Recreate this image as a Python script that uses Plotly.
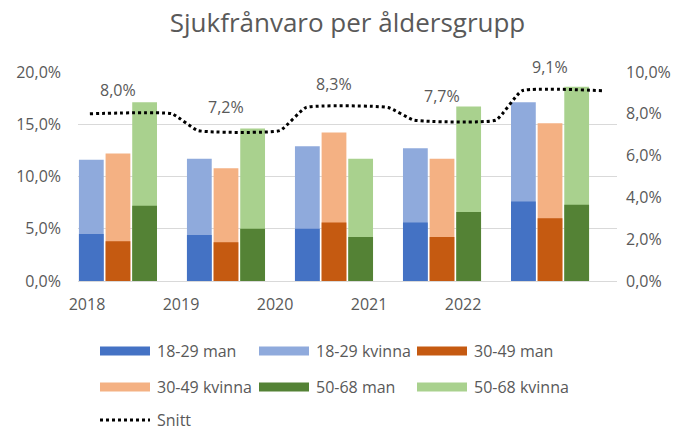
import plotly.graph_objects as go

# Sick-leave share (%) per age group and year
years = [2018, 2019, 2020, 2021, 2022]
age_groups = ["18-29", "30-49", "50-68"]
man_values = {
    "18-29": [4.5, 4.4, 5.0, 5.6, 7.6],
    "30-49": [3.8, 3.7, 5.6, 4.2, 6.0],
    "50-68": [7.2, 5.0, 4.2, 6.6, 7.3],
}
kvinna_values = {
    "18-29": [11.6, 11.7, 12.9, 12.7, 17.1],
    "30-49": [12.2, 10.8, 14.2, 11.7, 15.1],
    "50-68": [17.1, 14.6, 11.7, 16.7, 18.6],
}
snitt = [8.0, 7.2, 8.3, 7.7, 9.1]

left_ticks = [0, 5, 10, 15, 20]
right_ticks = [0, 2, 4, 6, 8, 10]


def pct(v):
    return f"{v:.1f}%".replace(".", ",")


man_colors = {"18-29": "#4472C4", "30-49": "#C55A11", "50-68": "#548235"}
kvinna_colors = {"18-29": "#8FAADC", "30-49": "#F4B183", "50-68": "#A9D18E"}

FONT = "Open Sans"
GRAY = "#595959"
W, H = 683, 430
L, R, T, B = 78, 617, 72, 281  # plot area in pixels

fig = go.Figure()

for g in age_groups:
    fig.add_trace(go.Bar(
        x=years, y=kvinna_values[g], name=f"{g} kvinna", offsetgroup=g,
        marker=dict(color=kvinna_colors[g], line=dict(width=0)),
        showlegend=False,
    ))
    fig.add_trace(go.Bar(
        x=years, y=man_values[g], name=f"{g} man", offsetgroup=g,
        marker=dict(color=man_colors[g], line=dict(width=0)),
        showlegend=False,
    ))

# Average line: a flat run across each year, slanted joins between years
SHIFT, HALF = 0.12, 0.38
lx, ly = [], []
for yr, v in zip(years, snitt):
    lx += [yr + SHIFT - HALF, yr + SHIFT + HALF]
    ly += [v, v]
fig.add_trace(go.Scatter(
    x=lx, y=ly, yaxis="y2", mode="lines", name="Snitt",
    line=dict(color="black", width=3, dash="dot", shape="spline", smoothing=0.4),
    showlegend=False,
))

# Carrier for the year labels axis
fig.add_trace(go.Scatter(
    x=years, y=snitt, xaxis="x2", yaxis="y2", mode="markers",
    marker=dict(opacity=0), showlegend=False, hoverinfo="skip",
))

for yr, v in zip(years, snitt):
    fig.add_annotation(
        x=yr, y=v, xref="x", yref="y2", text=pct(v),
        showarrow=False, yshift=24, font=dict(family=FONT, size=16, color=GRAY),
    )

# Legend drawn as swatches + labels
def px_x(p):
    return (p - L) / (R - L)


def px_y(p):
    return (B - p) / (B - T)


legend_items = []
for g in age_groups:
    legend_items.append((f"{g} man", man_colors[g]))
    legend_items.append((f"{g} kvinna", kvinna_colors[g]))
col_x = [100, 259, 417]
row_y = [351, 387, 420]
for i, (label, color) in enumerate(legend_items):
    cx, ry = col_x[i % 3], row_y[i // 3]
    fig.add_shape(type="rect", xref="paper", yref="paper",
                  x0=px_x(cx), x1=px_x(cx + 50), y0=px_y(ry + 4.5), y1=px_y(ry - 4.5),
                  fillcolor=color, line=dict(width=0))
    fig.add_annotation(x=px_x(cx + 55), y=px_y(ry), xref="paper", yref="paper",
                       text=label, showarrow=False, xanchor="left", yanchor="middle",
                       font=dict(family=FONT, size=16, color=GRAY))
fig.add_shape(type="line", xref="paper", yref="paper",
              x0=px_x(col_x[0]), x1=px_x(col_x[0] + 50),
              y0=px_y(row_y[2]), y1=px_y(row_y[2]),
              line=dict(color="black", width=3, dash="dot"))
fig.add_annotation(x=px_x(col_x[0] + 55), y=px_y(row_y[2]), xref="paper", yref="paper",
                   text="Snitt", showarrow=False, xanchor="left", yanchor="middle",
                   font=dict(family=FONT, size=16, color=GRAY))

fig.update_layout(
    width=W, height=H, autosize=False,
    margin=dict(l=L, r=W - R, t=T, b=H - B, pad=0),
    paper_bgcolor="white", plot_bgcolor="white",
    barmode="group", bargap=0.26, bargroupgap=0.07,
    font=dict(family=FONT, color=GRAY),
    title=dict(text="Sjukfrånvaro per åldersgrupp", x=0.5, xanchor="center",
               y=1 - 23 / H, yanchor="middle", xref="paper",
               font=dict(family=FONT, size=26, color=GRAY)),
    xaxis=dict(range=[2017.63, 2022.62], showticklabels=False, showgrid=False,
               zeroline=False, showline=False, ticks=""),
    xaxis2=dict(overlaying="x", side="bottom", anchor="y", range=[2017.904, 2023.638],
                tickvals=years, ticktext=[str(y) for y in years], showgrid=False,
                zeroline=False, showline=False, ticks="", ticklabelstandoff=12,
                tickfont=dict(family=FONT, size=16, color=GRAY)),
    yaxis=dict(range=[0, 20], tickvals=left_ticks, ticktext=[pct(v) for v in left_ticks],
               showgrid=True, gridcolor="#D9D9D9", gridwidth=1,
               zeroline=True, zerolinecolor="#D9D9D9", zerolinewidth=1,
               showline=False, ticks="", ticklabelstandoff=16,
               tickfont=dict(family=FONT, size=16, color=GRAY)),
    yaxis2=dict(range=[0, 10], tickvals=right_ticks, ticktext=[pct(v) for v in right_ticks],
                overlaying="y", side="right", showgrid=False, zeroline=False,
                showline=False, ticks="", ticklabelstandoff=8,
                tickfont=dict(family=FONT, size=16, color=GRAY)),
)

fig.write_html("out.html")
